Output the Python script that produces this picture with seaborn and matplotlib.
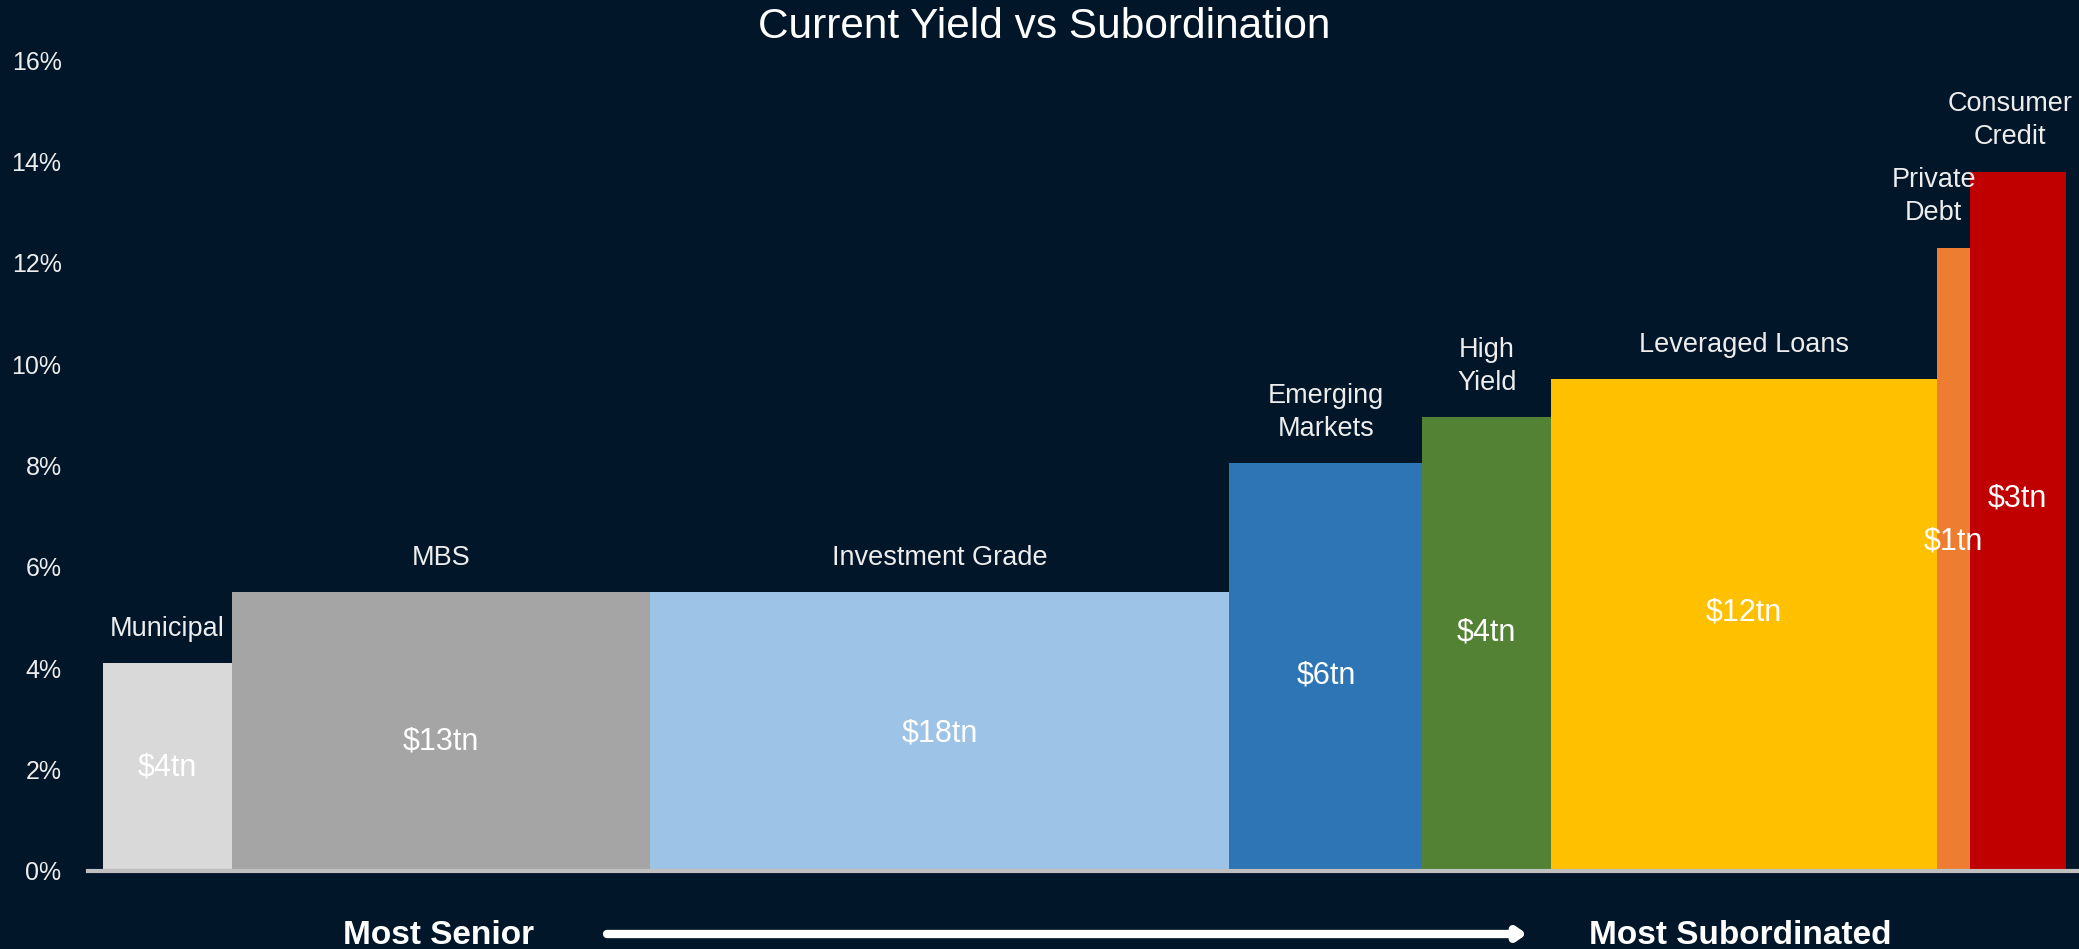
import matplotlib
matplotlib.use("Agg")
from matplotlib import pyplot as plt
import numpy as np
import pandas as pd
import seaborn as sns

# values
categories = ["Municipal", "MBS", "Investment Grade", "Emerging\nMarkets", "High\nYield",
              "Leveraged Loans", "Private\nDebt", "Consumer\nCredit"]
size_tn = [4, 13, 18, 6, 4, 12, 1, 3]
yield_pct = [4.1, 5.5, 5.5, 8.05, 8.95, 9.7, 12.3, 13.8]
size_labels = ["$4tn", "$13tn", "$18tn", "$6tn", "$4tn", "$12tn", "$1tn", "$3tn"]
y_ticks = [0, 2, 4, 6, 8, 10, 12, 14, 16]

colors = ["#D9D9D9", "#A5A5A5", "#9DC3E6", "#2E75B6", "#548235", "#FFC000", "#ED7D31", "#C00000"]
value_label_y = [2.05, 2.55, 2.72, 3.85, 4.7, 5.1, 6.5, 7.35]  # layout only
name_ha = ["center"] * 6 + ["right", "right"]  # the narrow bars at the end get right aligned names
bg = "#011629"
txt = "#EDEDED"

# bar edges from market size -> variable width bars
edges = [0.0] + [float(v) for v in np.cumsum(size_tn)]
centers = [(edges[i] + edges[i + 1]) / 2 for i in range(len(size_tn))]
df = pd.DataFrame({"category": categories, "center": centers, "yield": yield_pct})

sns.set_style("white")
plt.rcParams["font.family"] = ["Liberation Sans", "DejaVu Sans"]

fig = plt.figure(figsize=(20.79, 9.49), dpi=100, facecolor=bg)
ax = fig.add_axes([88 / 2079, 78 / 949, 1 - 88 / 2079, 811 / 949])
ax.set_facecolor(bg)

sns.histplot(data=df, x="center", weights="yield", hue="category", bins=edges,
             palette=dict(zip(categories, colors)), multiple="layer", alpha=1,
             linewidth=0, legend=False, ax=ax)

ax.set_xlim(-0.466, 61.4)
ax.set_ylim(0, 16)
ax.set_xticks([])
ax.set_yticks(y_ticks)
ax.set_yticklabels([f"{t}%" for t in y_ticks], color=txt, fontsize=18)
ax.tick_params(axis="y", length=0, pad=19)
ax.set_xlabel("")
ax.set_ylabel("")
for s in ["top", "right", "left"]:
    ax.spines[s].set_visible(False)
ax.spines["bottom"].set_color("#BFBFBF")
ax.spines["bottom"].set_linewidth(3)

for i, (c, h, name, lab, ly) in enumerate(zip(centers, yield_pct, categories, size_labels, value_label_y)):
    if name_ha[i] == "right":
        ax.text(edges[i + 1] + 0.2, h + 0.42, name, ha="right", va="bottom", color=txt,
                fontsize=19.5, linespacing=1.35, multialignment="center")
    else:
        ax.text(c, h + 0.42, name, ha="center", va="bottom", color=txt, fontsize=19.5,
                linespacing=1.35)
    ax.text(c, ly, lab, ha="center", va="center", color="white", fontsize=22,
            parse_math=False)

fig.text(1044 / 2079, 1 - 27 / 949, "Current Yield vs Subordination", ha="center",
         va="center", color="white", fontsize=30.5)

fig.text(439 / 2079, 14 / 949, "Most Senior", ha="center", va="center", color="white",
         fontsize=24, fontweight="bold")
fig.text(1740 / 2079, 14 / 949, "Most Subordinated", ha="center", va="center",
         color="white", fontsize=24, fontweight="bold")
fig.add_artist(plt.Annotation("", xy=(1527 / 2079, 15 / 949), xytext=(607 / 2079, 15 / 949),
                              xycoords="figure fraction", textcoords="figure fraction",
                              arrowprops=dict(arrowstyle="-|>,head_width=0.35,head_length=0.5",
                                              lw=6, color="white", shrinkA=0, shrinkB=0)))

fig.savefig("out.png", dpi=100, facecolor=bg)
